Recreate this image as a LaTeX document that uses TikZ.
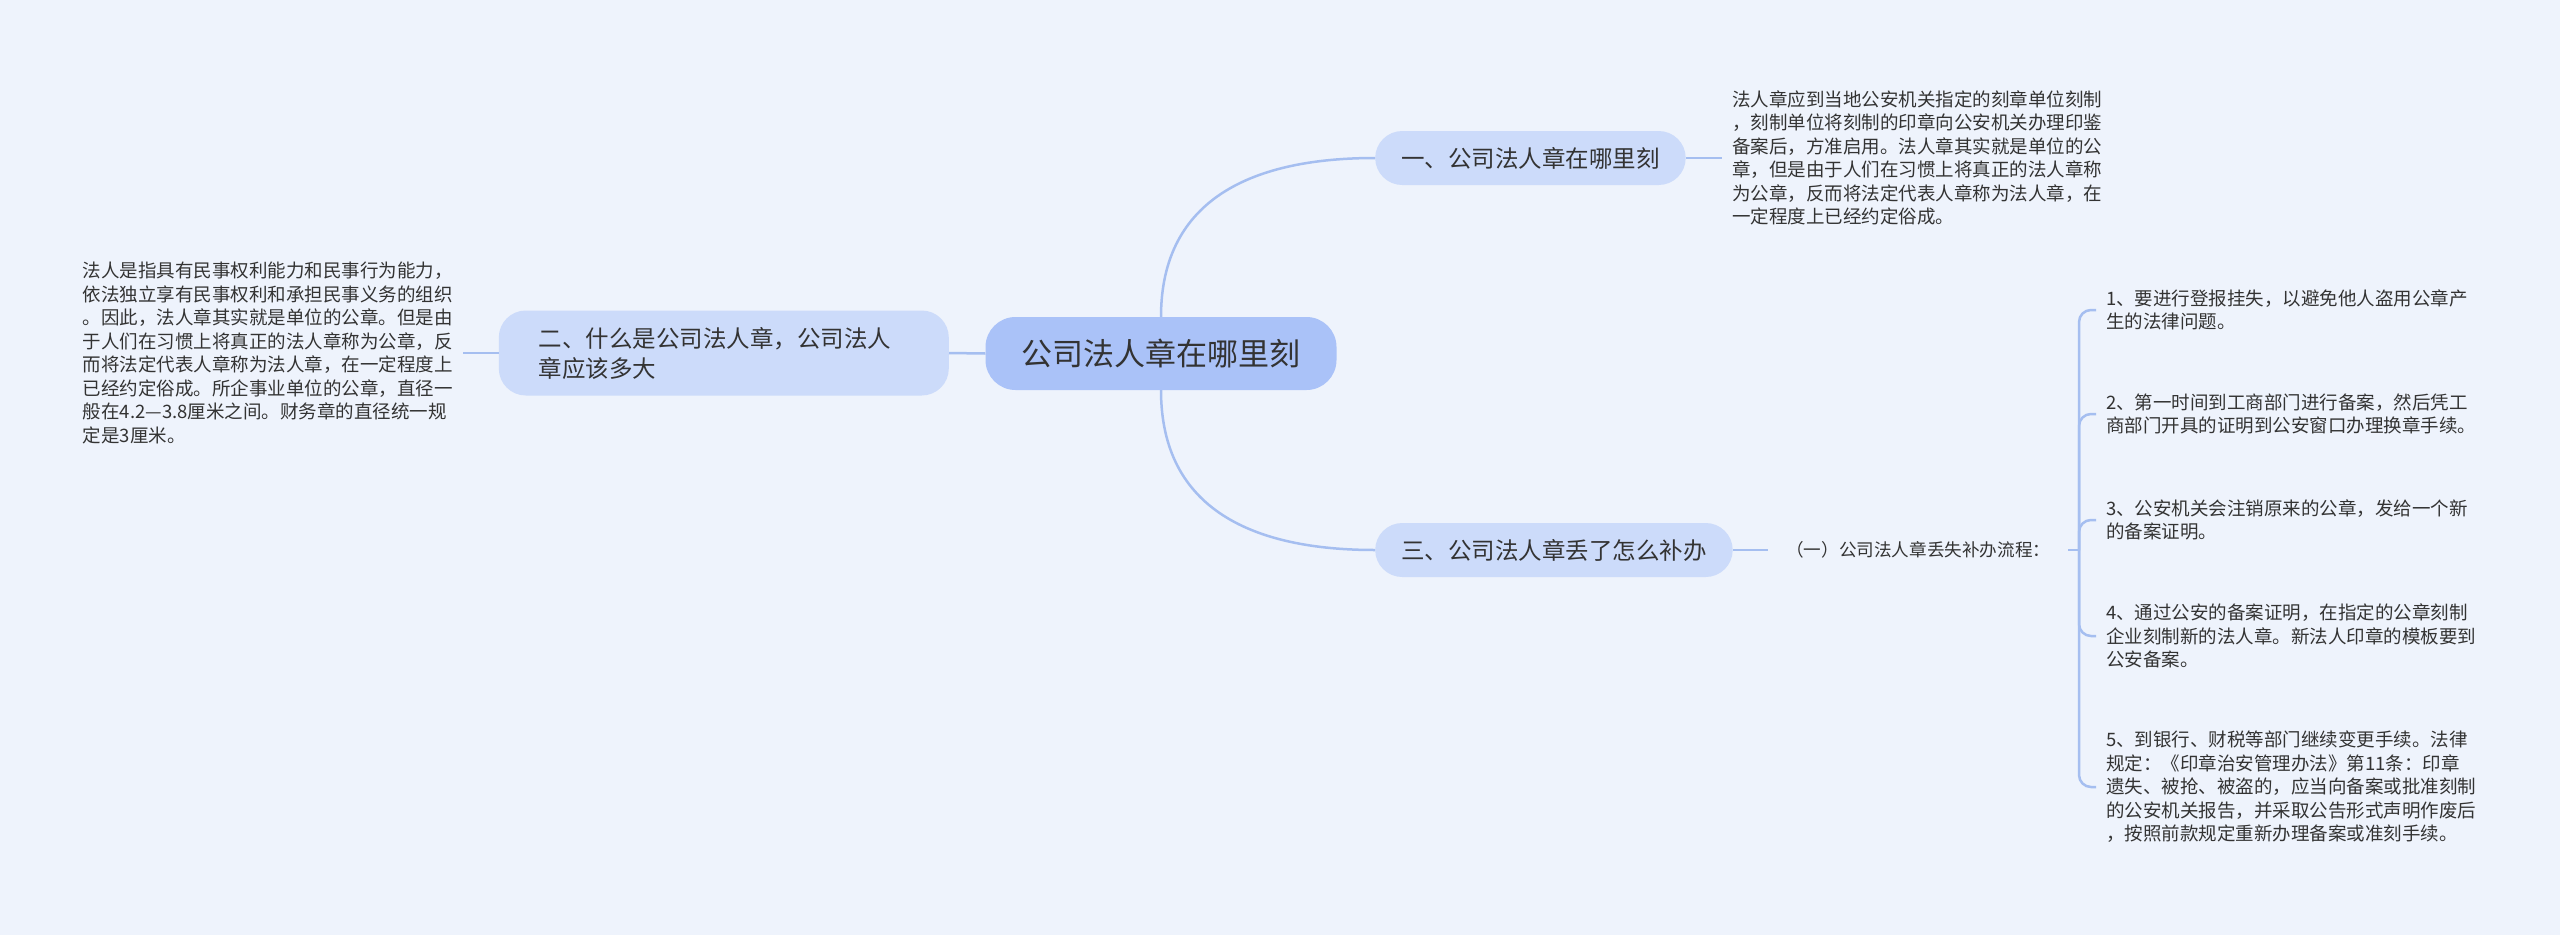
\documentclass[tikz,border=0pt]{standalone}
\usepackage{fontspec}
\setmainfont{Noto Sans CJK SC}
\usetikzlibrary{positioning}

\definecolor{bgblue}{HTML}{EEF3FC}
\definecolor{rootblue}{HTML}{AAC2F8}
\definecolor{branchblue}{HTML}{CCDBFA}
\definecolor{linkblue}{HTML}{A5BEF0}
\definecolor{inkgray}{HTML}{333333}

\begin{document}
\begin{tikzpicture}[
    x=1pt, y=-1pt,
    every node/.style={text=inkgray},
    rootnode/.style={
        fill=rootblue,
        rounded corners=30pt,
        minimum height=73pt,
        inner xsep=36pt,
        font=\fontsize{31}{36}\selectfont
    },
    branchnode/.style={
        fill=branchblue,
        rounded corners=27pt,
        minimum height=54pt,
        inner xsep=26pt,
        font=\fontsize{23.5}{30}\selectfont
    },
    leafnode/.style={
        align=left,
        inner xsep=10pt,
        font=\fontsize{18.5}{23.5}\selectfont
    },
    link/.style={draw=linkblue, line width=2.5pt}
]

% ---------- background, fixes the margins ----------
\fill[bgblue] (0,0) rectangle (2560,935);

% ---------- centre and first level ----------
\node[rootnode] (root) at (1161,353.5) {公司法人章在哪里刻};

\node[branchnode, anchor=west] (b1) at (1375,158) {一、公司法人章在哪里刻};
\node[branchnode, anchor=east, align=left, text width=370pt,
      inner xsep=40pt, minimum height=85pt] (b2) at (949,353)
    {二、什么是公司法人章，公司法人\\章应该多大};
\node[branchnode, anchor=west] (b3) at (1375,550) {三、公司法人章丢了怎么补办};

% ---------- leaves ----------
\node[leafnode, anchor=west] (l1) at (1722,158) {法人章应到当地公安机关指定的刻章单位刻制\\
，刻制单位将刻制的印章向公安机关办理印鉴\\
备案后，方准启用。法人章其实就是单位的公\\
章，但是由于人们在习惯上将真正的法人章称\\
为公章，反而将法定代表人章称为法人章，在\\
一定程度上已经约定俗成。};

\node[leafnode, anchor=east] (l2) at (463,353) {法人是指具有民事权利能力和民事行为能力，\\
依法独立享有民事权利和承担民事义务的组织\\
。因此，法人章其实就是单位的公章。但是由\\
于人们在习惯上将真正的法人章称为公章，反\\
而将法定代表人章称为法人章，在一定程度上\\
已经约定俗成。所企事业单位的公章，直径一\\
般在4.2—3.8厘米之间。财务章的直径统一规\\
定是3厘米。};

\node[leafnode, anchor=west, inner xsep=18pt,
      font=\fontsize{17.6}{22}\selectfont] (sub) at (1768,550) {（一）公司法人章丢失补办流程：};
\coordinate (jn) at (2079,550);

% steps of the procedure
\node[leafnode, anchor=west] (s1) at (2096,310) {1、要进行登报挂失，以避免他人盗用公章产\\
生的法律问题。};
\node[leafnode, anchor=west] (s2) at (2096,414) {2、第一时间到工商部门进行备案，然后凭工\\
商部门开具的证明到公安窗口办理换章手续。};
\node[leafnode, anchor=west] (s3) at (2096,520) {3、公安机关会注销原来的公章，发给一个新\\
的备案证明。};
\node[leafnode, anchor=west] (s4) at (2096,636) {4、通过公安的备案证明，在指定的公章刻制\\
企业刻制新的法人章。新法人印章的模板要到\\
公安备案。};
\node[leafnode, anchor=west] (s5) at (2096,787) {5、到银行、财税等部门继续变更手续。法律\\
规定：《印章治安管理办法》第11条：印章\\
遗失、被抢、被盗的，应当向备案或批准刻制\\
的公安机关报告，并采取公告形式声明作废后\\
，按照前款规定重新办理备案或准刻手续。};

% ---------- connectors ----------
\draw[link] (root.north) to[out=90, in=180, looseness=1.15] (b1.west);
\draw[link] (root.south) to[out=-90, in=180, looseness=1.15] (b3.west);
\draw[link] (root.west) -- (b2.east);
\draw[link] (b1.east) -- (l1.west);
\draw[link] (b2.west) -- (l2.east);
\draw[link] (b3.east) -- (sub.west);
\draw[link] (sub.east) -- (jn);
\foreach \i in {1,...,5}{
    \draw[link, rounded corners=12pt] (jn) |- (s\i.west);
}

\end{tikzpicture}
\end{document}
